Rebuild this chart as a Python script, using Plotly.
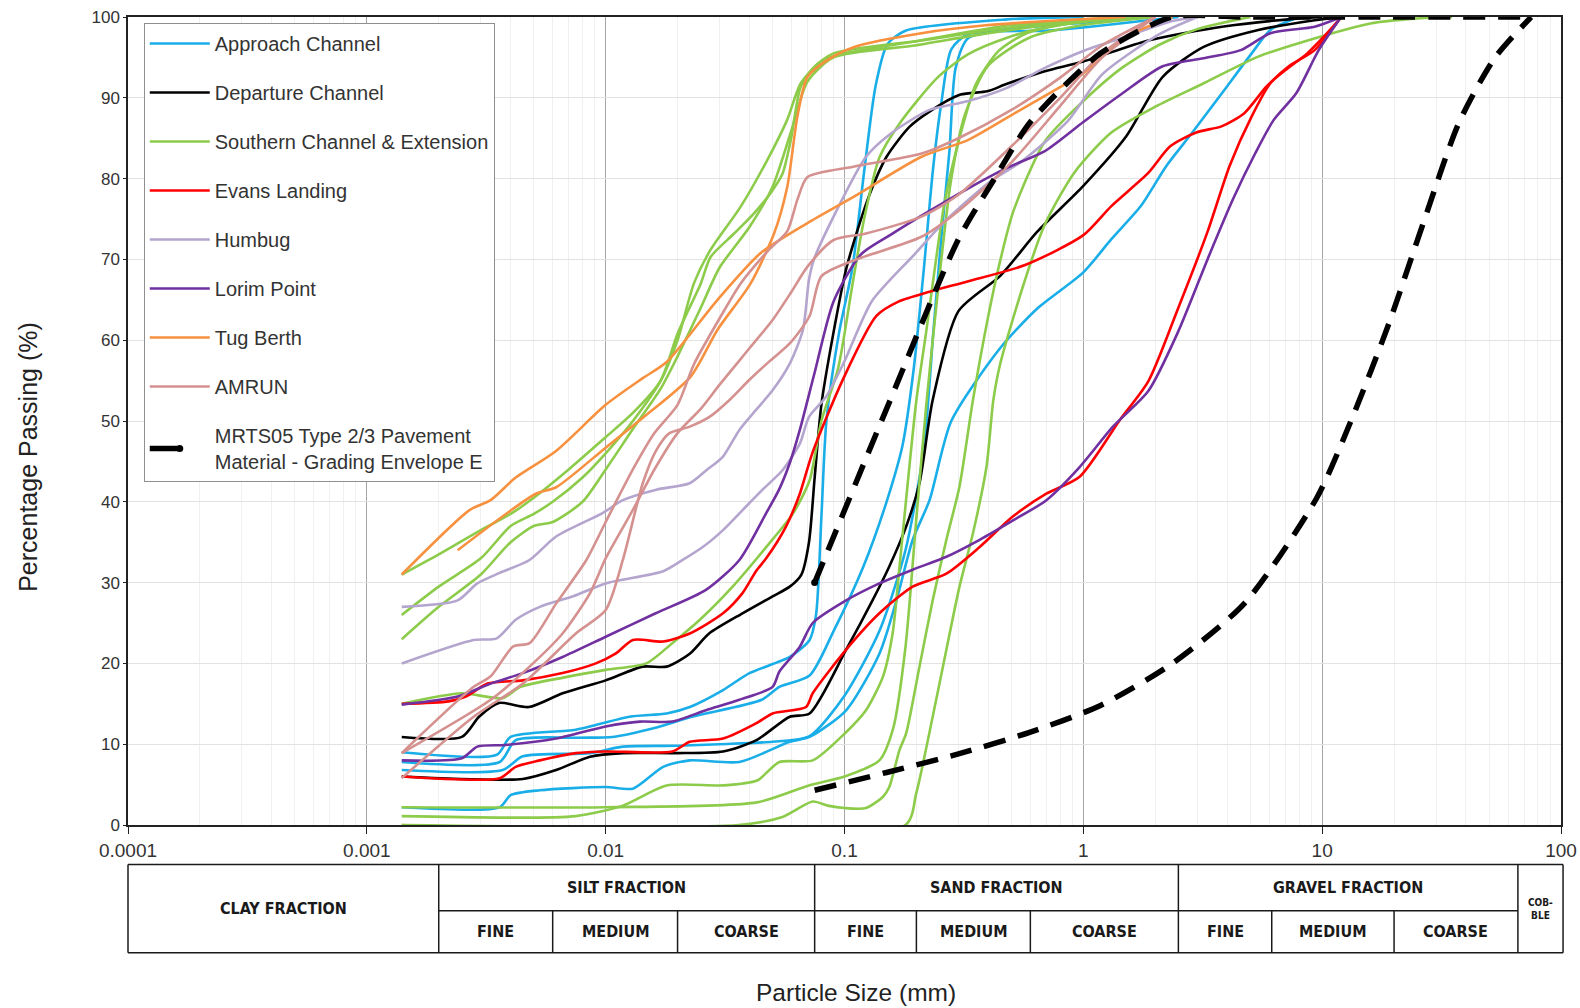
import math
import plotly.graph_objects as go

# ---------------- data: particle size (mm) and percentage passing (%) ----------------
# Approach Channel
approach_a_size = [0.0014, 0.0035, 0.004, 0.0075, 0.0126, 0.018, 0.0225, 0.031, 0.04, 0.059, 0.0714, 0.076, 0.08, 0.084, 0.095, 0.108, 0.121, 0.135, 0.151, 0.18, 0.48, 1.0]
approach_a_pass = [9.0, 8.7, 10.9, 11.8, 13.4, 13.8, 14.6, 16.7, 18.8, 20.8, 22.9, 26.0, 38.0, 50.0, 61.0, 69.0, 81.0, 91.5, 96.6, 98.3, 99.7, 100.0]
approach_b_size = [0.0014, 0.0036, 0.0042, 0.0075, 0.0107, 0.016, 0.023, 0.045, 0.0534, 0.0714, 0.09, 0.12, 0.15, 0.175, 0.195, 0.215, 0.235, 0.255, 0.28, 0.33, 0.69, 1.0, 1.87, 2.5]
approach_b_pass = [7.8, 7.8, 10.5, 10.8, 10.9, 12.0, 13.4, 15.5, 17.1, 18.5, 24.0, 32.0, 40.0, 47.0, 56.5, 68.9, 81.3, 89.6, 96.0, 97.9, 98.3, 98.7, 99.6, 100.0]
approach_c_size = [0.0014, 0.0037, 0.0045, 0.0086, 0.0118, 0.02, 0.03, 0.05, 0.0714, 0.1, 0.14, 0.18, 0.215, 0.235, 0.255, 0.275, 0.292, 0.33, 0.5, 1.0, 2.0]
approach_c_pass = [6.8, 6.8, 8.5, 8.9, 9.7, 9.8, 10.0, 10.3, 11.0, 16.0, 24.0, 34.0, 46.6, 60.7, 73.1, 83.4, 93.7, 97.4, 98.5, 99.3, 100.0]
approach_d_size = [0.0014, 0.0036, 0.004, 0.0053, 0.01, 0.013, 0.0174, 0.0225, 0.0363, 0.059, 0.0714, 0.1016, 0.14, 0.165, 0.193, 0.227, 0.28, 0.448, 0.64, 1.0, 1.31, 1.74, 2.23, 2.86, 3.81, 5.07, 6.07, 8.0]
approach_d_pass = [2.2, 2.2, 3.7, 4.3, 4.7, 4.5, 7.2, 8.0, 7.8, 10.3, 10.9, 14.2, 21.2, 27.8, 35.3, 40.2, 50.0, 59.0, 63.9, 68.4, 72.5, 76.6, 81.6, 85.7, 90.6, 95.5, 98.4, 100.0]

# Departure Channel
departure_a_size = [0.0014, 0.0025, 0.00295, 0.00357, 0.00477, 0.0066, 0.01, 0.0143, 0.018, 0.0225, 0.0271, 0.0374, 0.05, 0.059, 0.066, 0.071, 0.075, 0.08, 0.09, 0.102, 0.125, 0.15, 0.187, 0.227, 0.306, 0.396, 0.476, 0.69, 1.0, 1.87, 3.81, 7.8, 10.0]
departure_a_pass = [10.9, 10.9, 13.4, 15.1, 14.6, 16.3, 17.9, 19.6, 19.6, 21.2, 23.7, 26.2, 28.3, 29.5, 31.0, 35.0, 43.0, 52.0, 61.0, 69.0, 77.4, 82.7, 86.4, 88.3, 90.4, 90.8, 91.7, 93.3, 94.5, 97.1, 98.8, 99.8, 100.0]
departure_b_size = [0.0014, 0.0045, 0.0062, 0.0086, 0.0118, 0.0198, 0.031, 0.0428, 0.059, 0.0714, 0.1016, 0.131, 0.154, 0.181, 0.206, 0.234, 0.3, 0.45, 0.64, 1.0, 1.51, 2.15, 3.19, 5.4, 9.3, 12.0]
departure_b_pass = [6.0, 5.7, 6.8, 8.45, 8.9, 8.9, 9.1, 10.5, 13.4, 13.8, 21.7, 27.8, 32.0, 36.9, 42.3, 52.6, 63.6, 68.0, 73.4, 79.1, 85.2, 92.6, 96.3, 98.4, 99.6, 100.0]

# Southern Channel & Extension
southern_a_size = [0.0014, 0.002, 0.003, 0.004, 0.005, 0.007, 0.01, 0.013, 0.017, 0.02, 0.025, 0.0275, 0.0345, 0.0418, 0.049, 0.055, 0.0596, 0.0656, 0.0745, 0.09, 0.21, 0.6, 2.0]
southern_a_pass = [31.0, 33.5, 36.5, 38.5, 40.5, 44.0, 48.0, 51.0, 55.0, 60.8, 67.0, 70.3, 73.2, 75.7, 78.2, 80.6, 84.8, 91.4, 93.8, 95.5, 97.1, 99.0, 100.0]
southern_b_size = [0.0014, 0.002, 0.003, 0.004, 0.005, 0.006, 0.008, 0.01, 0.013, 0.017, 0.02, 0.0234, 0.0275, 0.0367, 0.0475, 0.0576, 0.0656, 0.08, 0.1, 0.2, 0.5, 1.5]
southern_b_pass = [26.0, 29.5, 33.0, 37.0, 38.5, 40.0, 43.0, 46.0, 50.0, 55.0, 60.0, 67.0, 71.2, 76.5, 82.3, 87.3, 91.8, 94.5, 95.5, 97.0, 99.0, 100.0]
southern_c_size = [0.0014, 0.002, 0.003, 0.004, 0.005, 0.006, 0.008, 0.01, 0.013, 0.017, 0.02, 0.025, 0.03, 0.04, 0.05, 0.06, 0.07, 0.09, 0.2, 0.4, 1.0, 2.0]
southern_c_pass = [23.0, 27.0, 31.0, 35.0, 37.0, 37.5, 40.0, 44.0, 49.0, 54.0, 58.0, 64.0, 69.0, 74.0, 79.0, 86.0, 92.0, 95.0, 96.5, 98.0, 99.5, 100.0]
southern_d_size = [0.0014, 0.0025, 0.0037, 0.0044, 0.0068, 0.01, 0.0148, 0.019, 0.0248, 0.034, 0.047, 0.061, 0.0715, 0.08, 0.094, 0.108, 0.121, 0.14, 0.169, 0.245, 0.33, 0.476, 0.69, 1.5]
southern_d_pass = [15.0, 16.3, 15.7, 17.1, 18.3, 19.2, 20.0, 22.5, 25.4, 29.5, 34.4, 38.6, 42.7, 50.0, 56.5, 66.9, 75.1, 82.6, 86.7, 92.5, 95.4, 97.4, 98.7, 100.0]
southern_e_size = [0.0014, 0.01, 0.043, 0.071, 0.1, 0.14, 0.16, 0.18, 0.2, 0.22, 0.25, 0.28, 0.32, 0.4, 0.6, 1.0, 2.0]
southern_e_pass = [2.2, 2.2, 2.8, 4.9, 6.0, 8.0, 12.0, 22.0, 38.0, 52.0, 68.0, 80.0, 88.0, 94.0, 97.5, 99.0, 100.0]
southern_f_size = [0.0014, 0.0075, 0.0118, 0.018, 0.031, 0.043, 0.0534, 0.0736, 0.1, 0.123, 0.145, 0.159, 0.17, 0.181, 0.2, 0.219, 0.263, 0.306, 0.355, 0.442, 0.57, 0.83, 1.5]
southern_f_pass = [1.1, 1.1, 2.4, 4.9, 4.9, 5.5, 7.8, 8.0, 11.3, 14.2, 18.4, 23.7, 32.0, 40.2, 52.6, 60.7, 77.2, 85.5, 91.7, 95.8, 97.9, 99.1, 100.0]
southern_g_size = [0.0014, 0.036, 0.055, 0.0736, 0.085, 0.1, 0.123, 0.145, 0.154, 0.17, 0.181, 0.206, 0.234, 0.267, 0.303, 0.345, 0.4, 0.45, 0.51, 0.69, 1.0, 1.45, 2.09, 3.0, 5.0]
southern_g_pass = [0.0, 0.0, 1.0, 2.9, 2.4, 2.1, 2.1, 3.5, 4.7, 9.3, 11.3, 19.6, 27.8, 35.3, 41.9, 52.6, 63.0, 70.0, 76.0, 84.6, 89.6, 93.7, 96.6, 98.5, 100.0]
southern_h_size = [0.0014, 0.18, 0.2, 0.234, 0.267, 0.303, 0.345, 0.393, 0.42, 0.448, 0.555, 0.687, 0.915, 1.31, 2.0, 3.19, 5.4, 8.7, 15.9, 24.4, 35.0]
southern_h_pass = [0.0, 0.0, 4.0, 13.4, 21.7, 29.5, 36.1, 44.3, 52.6, 57.0, 66.4, 74.2, 80.7, 85.7, 88.9, 91.8, 95.1, 97.1, 99.2, 99.8, 100.0]

# Evans Landing
evans_a_size = [0.0014, 0.0036, 0.0042, 0.0053, 0.0075, 0.01, 0.019, 0.0225, 0.031, 0.0428, 0.05, 0.069, 0.0736, 0.1016, 0.14, 0.193, 0.267, 0.368, 0.508, 0.7, 0.965, 1.42, 1.87, 2.49, 3.31, 4.1, 5.07, 6.07, 7.0, 8.66, 11.1, 12.0]
evans_a_pass = [6.0, 5.8, 7.2, 8.0, 8.9, 9.1, 9.1, 10.3, 10.7, 12.6, 13.8, 14.6, 16.3, 21.7, 26.2, 29.5, 31.1, 34.4, 38.2, 41.0, 43.1, 50.1, 54.9, 63.9, 73.4, 81.6, 87.7, 91.8, 93.4, 95.5, 98.8, 100.0]
evans_b_size = [0.0014, 0.0022, 0.0026, 0.0032, 0.0045, 0.0066, 0.0091, 0.011, 0.013, 0.0174, 0.0225, 0.031, 0.0374, 0.0428, 0.047, 0.0568, 0.065, 0.0733, 0.098, 0.136, 0.169, 0.227, 0.33, 0.57, 1.0, 1.31, 1.87, 2.31, 2.97, 3.81, 4.72, 5.85, 7.25, 9.3, 12.0]
evans_b_pass = [15.0, 15.3, 15.9, 17.5, 17.9, 18.8, 20.0, 21.2, 22.9, 22.7, 23.7, 26.2, 28.7, 31.5, 33.0, 36.9, 41.0, 46.0, 55.0, 63.0, 64.8, 66.0, 67.3, 69.3, 73.0, 76.6, 80.7, 84.0, 85.7, 86.5, 88.1, 91.4, 93.9, 95.9, 100.0]

# Humbug
humbug_a_size = [0.0014, 0.0024, 0.0029, 0.0036, 0.0048, 0.0062, 0.0097, 0.0118, 0.0163, 0.0225, 0.0264, 0.031, 0.0363, 0.0427, 0.05, 0.059, 0.067, 0.071, 0.0745, 0.09, 0.123, 0.155, 0.227, 0.33, 0.476, 0.69, 1.0, 1.45, 2.36, 3.0]
humbug_a_pass = [27.0, 27.8, 29.9, 31.2, 32.8, 35.7, 38.6, 40.2, 41.5, 42.3, 43.9, 45.6, 48.9, 51.4, 53.8, 57.1, 61.3, 67.5, 70.0, 75.3, 82.7, 85.5, 88.5, 89.6, 91.2, 93.7, 95.8, 97.4, 99.5, 100.0]
humbug_b_size = [0.0014, 0.0028, 0.0035, 0.0042, 0.0053, 0.0073, 0.01, 0.0174, 0.021, 0.0255, 0.031, 0.0375, 0.0454, 0.055, 0.065, 0.071, 0.0837, 0.1, 0.13, 0.196, 0.263, 0.41, 0.55, 0.86, 1.2, 2.09, 3.0]
humbug_b_pass = [20.0, 22.9, 23.1, 25.4, 27.0, 28.3, 29.9, 31.4, 32.8, 34.4, 36.5, 39.0, 41.5, 43.9, 47.2, 50.5, 53.0, 57.4, 64.8, 70.6, 74.7, 79.7, 82.1, 87.1, 92.9, 97.9, 100.0]

# Lorim Point
lorim_a_size = [0.0014, 0.0024, 0.0033, 0.0045, 0.0066, 0.01, 0.0162, 0.0263, 0.0363, 0.047, 0.0532, 0.059, 0.065, 0.075, 0.09, 0.117, 0.157, 0.227, 0.33, 0.476, 0.69, 1.0, 1.45, 2.15, 3.19, 4.56, 6.07, 9.3, 12.0]
lorim_a_pass = [14.9, 15.9, 17.5, 18.8, 20.8, 23.3, 26.2, 29.1, 32.8, 38.6, 41.5, 44.8, 48.9, 56.0, 64.8, 70.6, 73.1, 76.0, 78.8, 81.3, 83.4, 87.0, 90.5, 93.9, 94.9, 95.9, 98.0, 98.8, 100.0]
lorim_b_size = [0.0014, 0.0025, 0.0029, 0.0038, 0.0062, 0.01, 0.0139, 0.019, 0.0263, 0.0363, 0.05, 0.0534, 0.0648, 0.0736, 0.1016, 0.14, 0.193, 0.267, 0.368, 0.508, 0.7, 0.965, 1.33, 1.87, 2.49, 3.31, 4.24, 5.26, 6.28, 7.8, 9.67, 12.0]
lorim_b_pass = [8.0, 8.25, 9.7, 9.9, 10.7, 12.2, 12.8, 12.8, 14.2, 15.5, 17.1, 19.0, 22.0, 25.0, 27.8, 29.9, 31.6, 33.2, 35.3, 37.7, 40.2, 44.3, 49.3, 53.7, 61.0, 70.0, 77.5, 83.2, 87.3, 90.6, 95.9, 100.0]

# Tug Berth
tug_a_size = [0.0014, 0.0027, 0.0033, 0.0042, 0.0062, 0.01, 0.0143, 0.018, 0.0294, 0.0446, 0.07, 0.11, 0.21, 0.33, 0.53, 0.83, 1.0, 1.5, 2.36]
tug_a_pass = [31.0, 39.0, 40.2, 43.0, 46.3, 52.0, 55.3, 57.3, 65.0, 70.8, 74.5, 77.8, 82.7, 84.8, 88.3, 91.6, 93.0, 97.5, 100.0]
tug_b_size = [0.0024, 0.0051, 0.0062, 0.01, 0.0143, 0.0227, 0.0294, 0.0404, 0.0507, 0.0576, 0.0635, 0.07, 0.085, 0.11, 0.21, 0.4, 0.8, 1.5]
tug_b_pass = [34.0, 41.0, 41.8, 46.7, 50.4, 55.5, 61.3, 67.0, 73.2, 79.0, 87.7, 92.6, 94.7, 96.3, 98.0, 99.0, 99.6, 100.0]

# AMRUN
amrun_a_size = [0.0014, 0.0028, 0.0033, 0.0041, 0.0048, 0.0062, 0.0083, 0.01, 0.013, 0.016, 0.02, 0.0234, 0.0304, 0.0367, 0.0476, 0.0576, 0.0635, 0.07, 0.11, 0.21, 0.3, 0.5, 0.8, 1.2, 2.0]
amrun_a_pass = [8.9, 17.1, 18.4, 22.1, 22.5, 27.4, 32.8, 37.5, 44.0, 48.5, 52.0, 57.0, 63.0, 67.0, 71.0, 73.5, 77.4, 80.2, 81.5, 83.1, 85.0, 88.5, 92.5, 96.5, 100.0]
amrun_b_size = [0.0014, 0.0033, 0.0048, 0.0066, 0.0086, 0.01, 0.013, 0.016, 0.02, 0.025, 0.03, 0.04, 0.05, 0.06, 0.07, 0.09, 0.123, 0.21, 0.3, 0.5, 0.8, 1.2, 2.0]
amrun_b_pass = [8.9, 15.5, 19.6, 23.7, 28.7, 33.0, 39.0, 44.0, 48.5, 51.5, 54.5, 59.0, 62.5, 66.0, 69.1, 72.4, 73.2, 75.3, 78.0, 84.0, 90.0, 95.5, 100.0]
amrun_c_size = [0.0014, 0.0028, 0.0045, 0.0075, 0.01, 0.0118, 0.0143, 0.0163, 0.0185, 0.0225, 0.0272, 0.033, 0.04, 0.049, 0.059, 0.0714, 0.08, 0.11, 0.21, 0.3, 0.5, 0.8, 1.2, 2.0]
amrun_c_pass = [5.8, 13.4, 17.5, 23.7, 26.6, 32.8, 42.3, 46.4, 48.5, 49.3, 50.5, 52.6, 55.1, 57.5, 59.6, 63.0, 67.9, 69.9, 72.8, 76.0, 82.0, 89.0, 95.0, 100.0]

# MRTS05 Type 2/3 Pavement Material - Grading Envelope E
envelope_upper_size = [0.075, 0.15, 0.3, 0.425, 0.6, 1.18, 2.36, 4.75, 9.5, 19.0, 37.5, 75.0]
envelope_upper_pass = [30.0, 51.5, 72.5, 80.0, 87.0, 95.5, 100.0, 100.0, 100.0, 100.0, 100.0, 100.0]
envelope_lower_size = [0.075, 0.15, 0.3, 0.6, 1.18, 2.36, 4.75, 9.5, 13.2, 19.0, 26.5, 37.5, 53.0, 75.0]
envelope_lower_pass = [4.3, 6.5, 8.8, 11.5, 14.8, 20.0, 27.5, 40.5, 50.0, 62.0, 74.5, 87.0, 95.0, 100.0]

# axis ticks
x_tick_values = [0.0001, 0.001, 0.01, 0.1, 1, 10, 100]
x_tick_labels = ["0.0001", "0.001", "0.01", "0.1", "1", "10", "100"]

# soil classification table (boundaries in mm)
table_edges = [0.0001, 0.002, 0.075, 2.5, 66.0, 102.0]
table_sub_edges = [0.006, 0.02, 0.2, 0.6, 6.15, 20.0]
table_groups = ["CLAY FRACTION", "SILT FRACTION", "SAND FRACTION", "GRAVEL FRACTION", "COB-<br>BLE"]
table_subclasses = [(0.002, 0.006, "FINE"), (0.006, 0.02, "MEDIUM"), (0.02, 0.075, "COARSE"),
                    (0.075, 0.2, "FINE"), (0.2, 0.6, "MEDIUM"), (0.6, 2.5, "COARSE"),
                    (2.5, 6.15, "FINE"), (6.15, 20.0, "MEDIUM"), (20.0, 66.0, "COARSE")]

# ---------------- figure ----------------
series = [
    ("Approach Channel", "#1AAEE8", [(approach_a_size, approach_a_pass), (approach_b_size, approach_b_pass),
                                     (approach_c_size, approach_c_pass), (approach_d_size, approach_d_pass)]),
    ("Departure Channel", "#000000", [(departure_a_size, departure_a_pass), (departure_b_size, departure_b_pass)]),
    ("Southern Channel & Extension", "#8DCB4A", [(southern_a_size, southern_a_pass), (southern_b_size, southern_b_pass),
                                                 (southern_c_size, southern_c_pass), (southern_d_size, southern_d_pass),
                                                 (southern_e_size, southern_e_pass), (southern_f_size, southern_f_pass),
                                                 (southern_g_size, southern_g_pass), (southern_h_size, southern_h_pass)]),
    ("Evans Landing", "#FF0000", [(evans_a_size, evans_a_pass), (evans_b_size, evans_b_pass)]),
    ("Humbug", "#B4A5CE", [(humbug_a_size, humbug_a_pass), (humbug_b_size, humbug_b_pass)]),
    ("Lorim Point", "#7030A0", [(lorim_a_size, lorim_a_pass), (lorim_b_size, lorim_b_pass)]),
    ("Tug Berth", "#F7913F", [(tug_a_size, tug_a_pass), (tug_b_size, tug_b_pass)]),
    ("AMRUN", "#D4918F", [(amrun_a_size, amrun_a_pass), (amrun_b_size, amrun_b_pass), (amrun_c_size, amrun_c_pass)]),
]

fig = go.Figure()
for name, color, curves in series:
    for i, (sz, pp) in enumerate(curves):
        fig.add_trace(go.Scatter(
            x=sz, y=pp, mode="lines", name=name, legendgroup=name, showlegend=(i == 0),
            line=dict(color=color, width=2.6, shape="spline", smoothing=0.7),
            hoverinfo="skip"))

env_name = "MRTS05 Type 2/3 Pavement<br>Material - Grading Envelope E"
# legend entry: one thick dash followed by a dot, as in the reference key
fig.add_trace(go.Scatter(x=[None], y=[None], mode="lines+markers", name=env_name, legendgroup="env",
                         showlegend=True, line=dict(color="black", width=5.5, dash="28px,200px"),
                         marker=dict(color="black", size=7), hoverinfo="skip"))
fig.add_trace(go.Scatter(x=envelope_upper_size, y=envelope_upper_pass, mode="lines", name=env_name,
                         legendgroup="env", showlegend=False,
                         line=dict(color="black", width=5.5, dash="22px,13px", shape="spline", smoothing=0.7),
                         hoverinfo="skip"))
fig.add_trace(go.Scatter(x=envelope_lower_size, y=envelope_lower_pass, mode="lines", name=env_name,
                         legendgroup="env", showlegend=False,
                         line=dict(color="black", width=5.5, dash="22px,13px", shape="spline", smoothing=0.7),
                         hoverinfo="skip"))
fig.add_trace(go.Scatter(x=envelope_upper_size[:1], y=envelope_upper_pass[:1], mode="markers",
                         legendgroup="env", showlegend=False, marker=dict(color="black", size=7),
                         hoverinfo="skip"))

minor_vals = [k * 10 ** e for e in range(-4, 2) for k in range(2, 10)]

fig.update_xaxes(type="log", range=[-4, 2], tickmode="array", tickvals=x_tick_values, ticktext=x_tick_labels,
                 automargin=False, ticklabeloverflow="allow",
                 showgrid=True, gridcolor="#a6a6a6", gridwidth=1,
                 minor=dict(tickmode="array", tickvals=minor_vals, showgrid=True, gridcolor="#f0f0f0", ticks=""),
                 showline=True, linecolor="#222222", linewidth=1.5, mirror=True,
                 ticks="outside", ticklen=7, tickcolor="#222222",
                 tickfont=dict(size=19, color="#333333"), zeroline=False)
fig.update_yaxes(range=[0, 100], dtick=10, automargin=False, ticklabeloverflow="allow",
                 showgrid=True, gridcolor="#e2e2e2", gridwidth=1,
                 showline=True, linecolor="#222222", linewidth=1.5, mirror=True,
                 ticks="outside", ticklen=3, tickcolor="#222222",
                 tickfont=dict(size=17, color="#333333"), zeroline=False)


def px(mm):
    return (math.log10(mm) + 4.0) / 6.0


y_top, y_mid, y_bot = -0.049, -0.106, -0.158
shapes = []
line_style = dict(color="#1a1a1a", width=1.5)
shapes.append(dict(type="line", xref="paper", yref="paper", x0=px(table_edges[0]), x1=px(table_edges[-1]), y0=y_top, y1=y_top, line=line_style))
shapes.append(dict(type="line", xref="paper", yref="paper", x0=px(table_edges[0]), x1=px(table_edges[-1]), y0=y_bot, y1=y_bot, line=line_style))
shapes.append(dict(type="line", xref="paper", yref="paper", x0=px(table_edges[1]), x1=px(table_edges[-2]), y0=y_mid, y1=y_mid, line=line_style))
for e in table_edges:
    shapes.append(dict(type="line", xref="paper", yref="paper", x0=px(e), x1=px(e), y0=y_top, y1=y_bot, line=line_style))
for e in table_sub_edges:
    shapes.append(dict(type="line", xref="paper", yref="paper", x0=px(e), x1=px(e), y0=y_mid, y1=y_bot, line=line_style))

table_font = dict(family="Liberation Sans Narrow, Arial Narrow, DejaVu Sans Condensed, sans-serif", size=16, color="#1a1a1a")
annotations = []
for i, label in enumerate(table_groups):
    lo, hi = table_edges[i], table_edges[i + 1]
    xc = (px(lo) + px(hi)) / 2
    if i == 0 or i == len(table_groups) - 1:
        yc = (y_top + y_bot) / 2
        f = dict(table_font) if i == 0 else dict(table_font, size=10)
    else:
        yc = (y_top + y_mid) / 2
        f = table_font
    annotations.append(dict(xref="paper", yref="paper", x=xc, y=yc, text="<b>%s</b>" % label, showarrow=False,
                            xanchor="center", yanchor="middle", font=f))
for lo, hi, label in table_subclasses:
    annotations.append(dict(xref="paper", yref="paper", x=(px(lo) + px(hi)) / 2, y=(y_mid + y_bot) / 2,
                            text="<b>%s</b>" % label, showarrow=False, xanchor="center", yanchor="middle",
                            font=table_font))
annotations.append(dict(xref="paper", yref="paper", x=0.508, y=-0.2074, text="Particle Size (mm)", showarrow=False,
                        xanchor="center", yanchor="middle", font=dict(size=24.5, color="#222222")))
annotations.append(dict(xref="paper", yref="paper", x=-0.0703, y=0.456, text="Percentage Passing (%)", showarrow=False,
                        xanchor="center", yanchor="middle", textangle=-90, font=dict(size=25, color="#222222")))

fig.update_layout(
    width=1580, height=1008,
    margin=dict(l=128, r=19, t=17, b=183, autoexpand=False),
    paper_bgcolor="white", plot_bgcolor="white",
    font=dict(family="Liberation Sans, Arial, sans-serif", color="#333333", size=16),
    shapes=shapes, annotations=annotations,
    showlegend=True,
    legend=dict(x=0.011, y=0.9926, xanchor="left", yanchor="top", bgcolor="white",
                bordercolor="#8f8f8f", borderwidth=1, font=dict(size=20, color="#333333"),
                tracegroupgap=20, itemwidth=60),
)

# remove the default page margin and scrollbars so the 1580x1008 figure fills the window exactly
page_fix = ("document.body.style.margin='0';document.body.style.overflow='hidden';"
            "document.documentElement.style.overflow='hidden';")
fig.write_html("out.html", post_script=page_fix, config={"displayModeBar": False})
